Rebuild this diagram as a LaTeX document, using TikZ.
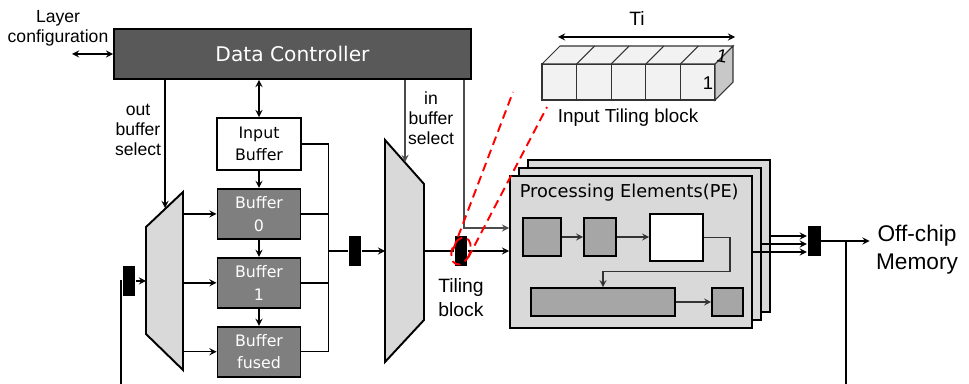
\documentclass[tikz,border=0pt]{standalone}
\usepackage{fontspec}
\setmainfont{Liberation Sans}
\newfontfamily\boxfont{DejaVu Sans}
\usepackage{xcolor}
\usepackage{tikz}
\usetikzlibrary{arrows, positioning, calc}

\definecolor{ctrlgray}{HTML}{595959}
\definecolor{bufgray}{HTML}{7F7F7F}
\definecolor{muxgray}{HTML}{D9D9D9}
\definecolor{unitgray}{HTML}{A6A6A6}
\definecolor{cubeface}{HTML}{F2F2F2}
\definecolor{cubeside}{HTML}{C8C8C8}

\begin{document}
\begin{tikzpicture}[
    x=0.02cm, y=-0.02cm,
    line width=0.8pt,
    ctrlbox/.style={rectangle, draw=black, fill=ctrlgray, line width=1.1pt, minimum width=7.14cm, minimum height=1cm, text=white, font=\boxfont\fontsize{11.5}{14}\selectfont},
    bufbox/.style={rectangle, draw=black, fill=bufgray, line width=1.1pt, minimum width=1.66cm, minimum height=1cm, inner sep=0pt, align=center, text=white, font=\boxfont\fontsize{9}{12.8}\selectfont},
    regbox/.style={rectangle, fill=black, minimum width=0.24cm, minimum height=0.6cm, inner sep=0pt},
    muxshape/.style={draw=black, fill=muxgray, line width=1.1pt},
    pebox/.style={rectangle, draw=black, fill=muxgray, line width=1.1pt, minimum width=4.84cm, minimum height=3.04cm},
    unitbox/.style={rectangle, draw=black, fill=unitgray, line width=0.9pt, inner sep=0pt},
    cubebox/.style={rectangle, draw=black!80, fill=cubeface, line width=0.6pt, minimum width=0.692cm, minimum height=0.72cm, inner sep=0pt},
    label/.style={align=center, font=\fontsize{10}{11.5}\selectfont},
    arrow/.style={->, >=stealth},
    redline/.style={draw=red, dashed, dash pattern=on 5pt off 3pt, line width=1.1pt}
]
    \useasboundingbox (0,0) rectangle (969,384);

    % Data controller and buffers
    \node (dc) [ctrlbox] at (292.5,54) {Data Controller};
    \node (inbuf) [bufbox, fill=white, text=black, minimum height=1.04cm, minimum width=1.68cm] at (259,144) {Input\\Buffer};
    \node (buf0) [bufbox, below=0.34cm of inbuf] {Buffer\\0};
    \node (buf1) [bufbox, below=0.34cm of buf0] {Buffer\\1};
    \node (buffused) [bufbox, below=0.34cm of buf1] {Buffer\\fused};

    % Multiplexers
    \draw[muxshape] (146,227) -- (183,192) -- (183,370) -- (146,334) -- cycle;
    \draw[muxshape] (385,140) -- (424,184) -- (424,320) -- (385,362) -- cycle;
    \coordinate (outmuxE) at (183,0);
    \coordinate (outmuxW) at (146,281);
    \coordinate (inmuxW) at (385,251);
    \coordinate (inmuxE) at (424,251);

    % Registers
    \node (regIn) [regbox] at (129,281) {};
    \node (regBus) [regbox] at (355,251) {};
    \node (tilereg) [regbox] at (461,251) {};
    \node (regOut) [regbox, minimum width=0.26cm] at (814,241) {};

    % Processing elements
    \node (pe3) [pebox] at ($(631,252)+(18,-16)$) {};
    \node (pe2) [pebox] at ($(631,252)+(9,-8)$) {};
    \node (pe1) [pebox] at (631,252) {};
    \node (petitle) [below right=0.16cm and 0.2cm of pe1.north west, inner sep=0pt, font=\boxfont\fontsize{10.1}{12}\selectfont] {Processing Elements(PE)};
    \node (unit1) [unitbox, minimum width=0.76cm, minimum height=0.76cm] at (542,237) {};
    \node (unit2) [unitbox, minimum width=0.64cm, minimum height=0.76cm] at (600,237) {};
    \node (unit3) [unitbox, fill=white, minimum width=1.06cm, minimum height=0.94cm] at (676.5,237.5) {};
    \node (unit4) [unitbox, minimum width=2.88cm, minimum height=0.56cm] at (603,302) {};
    \node (unit5) [unitbox, minimum width=0.62cm, minimum height=0.56cm] at (727.5,302) {};

    \draw[arrow, black!80] (unit1.east) -- (unit2.west |- unit1.east);
    \draw[arrow, black!80] (unit2.east) -- (unit3.west |- unit2.east);
    \draw[arrow, black!80] (unit3.east) -- ++(26,0) |- ($(unit4.north)+(0,-16)$) -- (unit4.north);
    \draw[arrow, black!80] (unit4.east) -- (unit5.west);

    % Input tiling block
    \foreach \i in {0,...,4}
        \node (cube\i) [cubebox] at (559.3+34.6*\i,82) {};
    \draw[draw=black!80, fill=cubeface, line width=0.6pt] (542,64) -- (560,46) -- (733,46) -- (715,64) -- cycle;
    \foreach \i in {1,...,4}
        \draw[draw=black!80, line width=0.6pt] (542+34.6*\i,64) -- ++(18,-18);
    \draw[draw=black!80, fill=cubeside, line width=0.6pt] (715,64) -- (733,46) -- (733,82) -- (715,100) -- cycle;
    \node (oneFront) [font=\fontsize{10.5}{12}\selectfont] at (708,83) {1};
    \node (oneTop) [font=\fontsize{10.5}{12}\selectfont, rotate=-10] at (722,56) {1};
    \coordinate (tiL) at (558,37);
    \coordinate (tiR) at (735,37);
    \draw[<->, >=stealth] (tiL) -- (tiR);
    \node (ti) [label, font=\fontsize{11}{12}\selectfont] at (637,19) {Ti};
    \node (tilecap) [label, font=\fontsize{10.7}{12}\selectfont] at (628,118) {Input Tiling block};

    % Labels
    \node (layercfg) [label] at (58,28) {Layer\\configuration};
    \node (outsel) [label] at (138,130) {out\\buffer\\select};
    \node (insel) [label] at (431,118) {in\\buffer\\select};
    \node (tilelbl) [label, font=\fontsize{11}{13.6}\selectfont, below=0.1cm of tilereg] {Tiling\\block};
    \node (mem) [label, font=\fontsize{12.9}{15.9}\selectfont] at (917,250) {Off-chip\\Memory};

    % Control connections
    \coordinate (cfg) at (72,54);
    \draw[<->, >=stealth] (cfg) -- (dc.west |- cfg);
    \coordinate (osel) at (165,208);
    \draw[arrow] (dc.south -| osel) -- (osel);
    \draw[<->, >=stealth, thick] (inbuf.north |- dc.south) -- (inbuf.north);
    \coordinate (isel) at (405,162);
    \draw[arrow, black!70] (dc.south -| isel) -- (isel);
    \coordinate (pefeed) at (464,228);
    \draw[arrow, black!70] (dc.south -| pefeed) -- (pefeed) -- (pe1.west |- pefeed);

    % Buffer chain
    \draw[arrow] (inbuf.south) -- (buf0.north);
    \draw[arrow] (buf0.south) -- (buf1.north);
    \draw[arrow] (buf1.south) -- (buffused.north);
    \draw[arrow] (outmuxE |- buf0.west) -- (buf0.west);
    \draw[arrow] (outmuxE |- buf1.west) -- (buf1.west);
    \draw[arrow] (outmuxE |- buffused.west) -- (buffused.west);

    % Buffer bus to input mux
    \coordinate (busBot) at ($(buffused.east)+(27,0)$);
    \draw (inbuf.east) -| (busBot) -- (buffused.east);
    \draw (buf0.east) -- (busBot |- buf0.east);
    \draw (buf1.east) -- (busBot |- buf1.east);
    \draw[thick] (busBot |- regBus.west) -- (regBus.west);
    \draw[arrow] (regBus.east) -- (inmuxW);
    \draw (inmuxE) -- (tilereg.west);
    \draw[arrow] (tilereg.east) -- (pe1.west |- tilereg.east);

    % Feedback into output mux
    \coordinate (fbL) at (121,384);
    \draw (fbL) |- (regIn.west);
    \draw[arrow] (regIn.east) -- (outmuxW);

    % PE outputs to memory
    \draw[arrow] (pe3.east) -- (regOut.west |- pe3.east);
    \draw[arrow] (pe2.east) -- (regOut.west |- pe2.east);
    \draw[arrow] (pe1.east) -- (regOut.west |- pe1.east);
    \draw[arrow] (regOut.east) -- (mem.west |- regOut.east);
    \coordinate (fbR) at (846,384);
    \draw (regOut.east -| fbR) -- (fbR);

    % Zoom of the tiling block
    \coordinate (zoomA0) at (453,250);
    \coordinate (zoomA) at (513,92);
    \coordinate (zoomB0) at (468,258);
    \coordinate (zoomB) at (547,107);
    \draw[redline, rotate around={-20:(tilereg.center)}] (tilereg.center) ellipse (9 and 14);
    \draw[redline] (zoomA0) -- (zoomA);
    \draw[redline] (zoomB0) -- (zoomB);

\end{tikzpicture}
\end{document}
